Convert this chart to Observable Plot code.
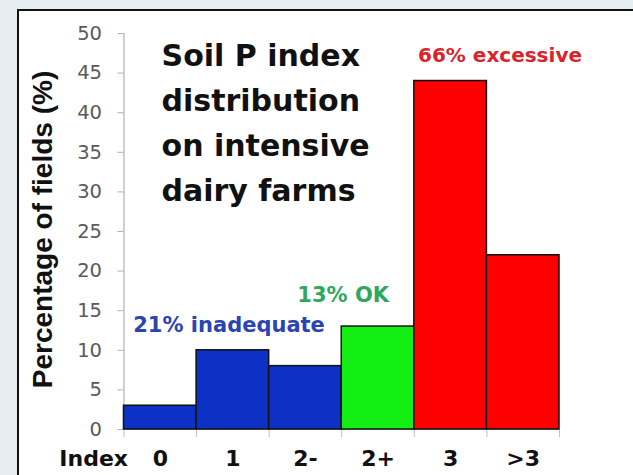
<!DOCTYPE html>
<html>
<head>
<meta charset="utf-8">
<script src="https://cdn.jsdelivr.net/npm/d3@7"></script>
<script src="https://cdn.jsdelivr.net/npm/@observablehq/plot@0.6"></script>
<style>
  html, body { margin: 0; padding: 0; background: #e7eef2; }
  #wrap { position: relative; width: 633px; height: 475px; overflow: hidden; }
  #panel { position: absolute; left: 17px; top: 9px; right: 0; bottom: 0; background: #ffffff;
           border-left: 2px solid #111; border-top: 2px solid #111; }
  #chart { position: absolute; left: 0; top: 0; }
</style>
</head>
<body>
<div id="wrap"><div id="panel"></div><div id="chart"></div></div>
<script>
// ---- data ----
const categories = ["0", "1", "2-", "2+", "3", ">3"];
const percentages = [3, 10, 8, 13, 44, 22];
const status = ["inadequate", "inadequate", "inadequate", "OK", "excessive", "excessive"];
const yTicks = [0, 5, 10, 15, 20, 25, 30, 35, 40, 45, 50];
const yLabel = "Percentage of fields (%)";
const xPrefix = "Index";
const titleText = "Soil P index\ndistribution\non intensive\ndairy farms";
const noteInadequate = "21% inadequate";
const noteOK = "13% OK";
const noteExcessive = "66% excessive";

// table for the library
const rows = categories.map((c, i) => ({category: c, x1: i, x2: i + 1, value: percentages[i], status: status[i]}));
const boundaries = d3.range(categories.length + 1);
const centers = categories.map((c, i) => i + 0.5);

const bold = "DejaVu Sans";

const chart = Plot.plot({
  width: 633,
  height: 475,
  marginLeft: 123.5,
  marginRight: 74,
  marginTop: 33,
  marginBottom: 46,
  style: {background: "transparent", overflow: "visible"},
  x: {type: "linear", domain: [0, categories.length], axis: null},
  y: {domain: [0, 50], axis: null},
  color: {type: "ordinal", domain: ["inadequate", "OK", "excessive"], range: ["#0c31c4", "#12ee12", "#fd0000"]},
  marks: [
    Plot.ruleX([0], {stroke: "#b0b0b0", strokeWidth: 1.2}),
    Plot.ruleY([0], {stroke: "#b0b0b0", strokeWidth: 1.2}),
    Plot.axisY({ticks: yTicks, tickSize: 6, tickPadding: 16, stroke: "#b0b0b0", fill: "#5a5a5a",
                fontSize: 19.5, fontFamily: "DejaVu Sans", label: null}),
    Plot.axisX({ticks: boundaries, tickSize: 8, tickFormat: () => "", stroke: "#c0c0c0", label: null}),
    Plot.rectY(rows, {x1: "x1", x2: "x2", y: "value", fill: "status", stroke: "#111", strokeWidth: 1.5}),
    Plot.axisX({ticks: centers, tickSize: 0, tickPadding: 21, tickFormat: (d) => categories[Math.round(d - 0.5)],
                fill: "#111", fontSize: 22, fontWeight: "bold", fontFamily: bold, label: null}),
    Plot.text([xPrefix], {x: 0, frameAnchor: "bottom", textAnchor: "end", lineAnchor: "top", dx: 4, dy: 21,
                          fill: "#111", fontSize: 22, fontWeight: "bold", fontFamily: bold}),
    Plot.text([yLabel], {frameAnchor: "left", rotate: -90, dx: -81, dy: -2, textAnchor: "middle", lineAnchor: "middle",
                         fill: "#111", fontSize: 28, fontWeight: "bold", fontFamily: "Liberation Sans"}),
    Plot.text([titleText], {x: 0.517, y: 49.9, textAnchor: "start", lineAnchor: "top", lineHeight: 1.5,
                            fill: "#111", fontSize: 30, fontWeight: "bold", fontFamily: bold}),
    Plot.text([noteInadequate], {x: 1.447, y: 13.1, textAnchor: "middle", lineAnchor: "middle",
                                 fill: "#2a44b4", fontSize: 21, fontWeight: "bold", fontFamily: bold}),
    Plot.text([noteOK], {x: 3.02, y: 16.9, textAnchor: "middle", lineAnchor: "middle",
                         fill: "#2fa85e", fontSize: 21, fontWeight: "bold", fontFamily: bold}),
    Plot.text([noteExcessive], {x: 5.18, y: 47.2, textAnchor: "middle", lineAnchor: "middle",
                                fill: "#d9242c", fontSize: 20, fontWeight: "bold", fontFamily: bold})
  ]
});
document.getElementById("chart").appendChild(chart);
</script>
</body>
</html>
